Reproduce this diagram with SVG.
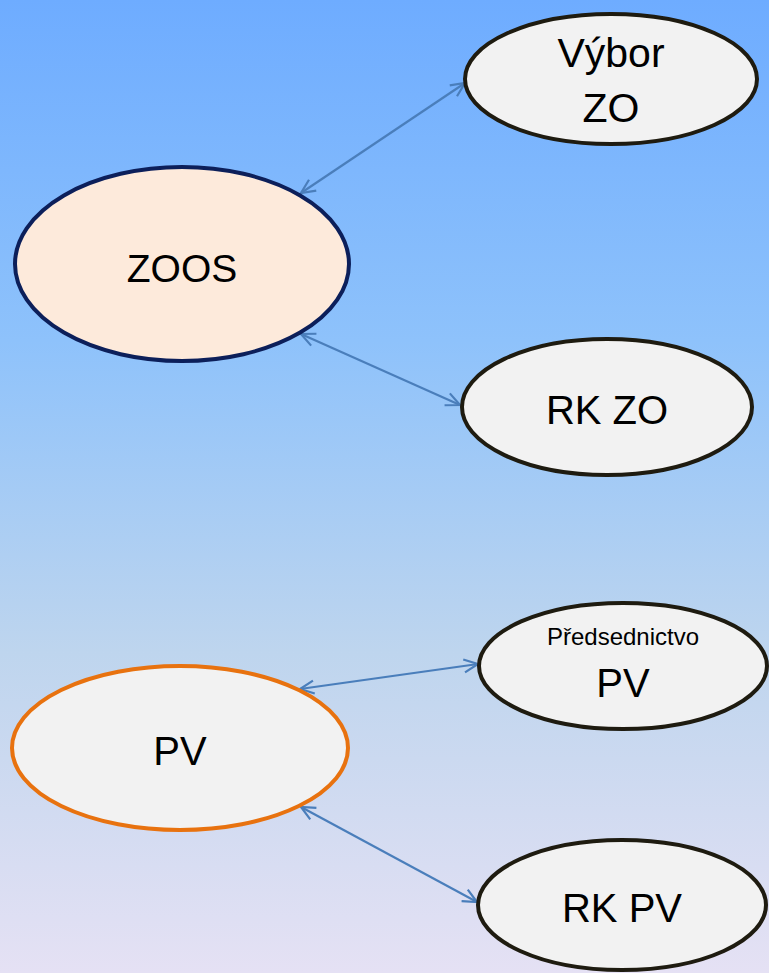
<svg xmlns="http://www.w3.org/2000/svg" width="769" height="973" viewBox="0 0 769 973">
<defs>
<linearGradient id="bg" x1="0" y1="0" x2="0" y2="1">
<stop offset="0" stop-color="#6eacff"/>
<stop offset="0.35" stop-color="#8ec2fb"/>
<stop offset="0.67" stop-color="#bed5ee"/>
<stop offset="1" stop-color="#e5e1f4"/>
</linearGradient>
<marker id="ah" viewBox="0 0 16 16" refX="15" refY="8" markerWidth="16" markerHeight="16" markerUnits="userSpaceOnUse" orient="auto-start-reverse">
<path d="M1,1.5 L15,8 L1,14.5" fill="none" stroke="#4a7ebb" stroke-width="2.2"/>
</marker>
<style>
.n{fill:#f2f2f2;stroke:#1e1b10;stroke-width:4}
.t{font-family:"Liberation Sans",Arial,sans-serif;fill:#000;text-anchor:middle}
.c{stroke:#4a7ebb;stroke-width:2.2;fill:none;marker-start:url(#ah);marker-end:url(#ah)}
</style>
</defs>
<rect width="769" height="973" fill="url(#bg)"/>
<g id="connectors">
<line class="c" x1="301" y1="193" x2="465" y2="83"/>
<line class="c" x1="301" y1="334" x2="460" y2="405"/>
<line class="c" x1="300" y1="689" x2="478" y2="664"/>
<line class="c" x1="301" y1="807" x2="477" y2="902"/>
</g>
<g id="zoos">
<ellipse cx="182" cy="264" rx="167" ry="97" fill="#fdeadb" stroke="#0c1f5a" stroke-width="4"/>
<text class="t" x="182" y="282" font-size="39">ZOOS</text>
</g>
<g id="vybor-zo">
<ellipse class="n" cx="611" cy="79" rx="146" ry="65"/>
<text class="t" x="611" y="67" font-size="41">Výbor</text>
<text class="t" x="611" y="122" font-size="41">ZO</text>
</g>
<g id="rk-zo">
<ellipse class="n" cx="607" cy="407" rx="145" ry="68"/>
<text class="t" x="607" y="424" font-size="40">RK ZO</text>
</g>
<g id="pv">
<ellipse cx="180" cy="748" rx="168" ry="82" fill="#f2f2f2" stroke="#e8720f" stroke-width="4"/>
<text class="t" x="180" y="765" font-size="40">PV</text>
</g>
<g id="predsednictvo-pv">
<ellipse class="n" cx="623" cy="666" rx="144" ry="63"/>
<text class="t" x="623" y="645" font-size="24">Předsednictvo</text>
<text class="t" x="623" y="697" font-size="40">PV</text>
</g>
<g id="rk-pv">
<ellipse class="n" cx="622" cy="905" rx="144" ry="65"/>
<text class="t" x="622" y="922" font-size="40">RK PV</text>
</g>
</svg>
